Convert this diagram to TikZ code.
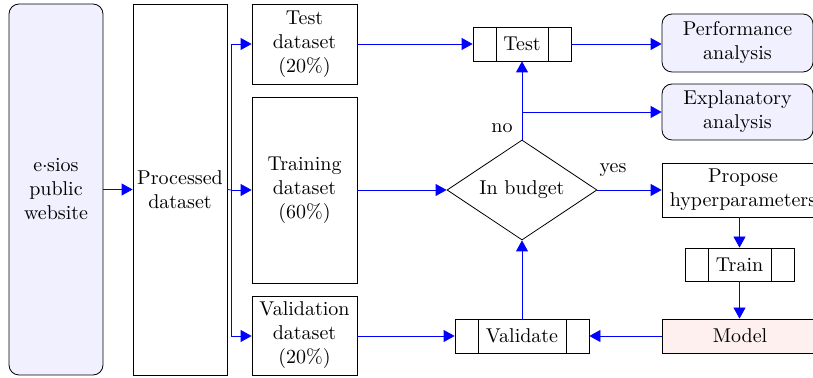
\documentclass[tikz,border=0pt]{standalone}
\usetikzlibrary{arrows.meta,shapes.geometric}
\begin{document}
\begin{tikzpicture}[x=0.5pt,y=-0.5pt,
  box/.style={draw, inner sep=0pt, align=center},
  rbox/.style={box, rounded corners=5pt, fill=blue!6},
  splitbox/.style={box, path picture={
    \draw ([xshift=11.5pt]path picture bounding box.north west) -- ([xshift=11.5pt]path picture bounding box.south west);
    \draw ([xshift=-11.5pt]path picture bounding box.north east) -- ([xshift=-11.5pt]path picture bounding box.south east);}},
  link/.style={draw=blue},
  arr/.style={link, -{Triangle[length=5.5pt,width=6pt]}},
  lbl/.style={inner sep=0pt}]
\useasboundingbox (0,0) rectangle (813,378);
\node[rbox, minimum width=47pt, minimum height=185.5pt] (src) at (56,189.5) {e\hbox to 2.4pt{\hss$\cdot$\hss}sios\\public\\website};
\node[box, minimum width=47pt, minimum height=185.5pt] (proc) at (180,189.5) {Processed\\dataset};
\node[box, minimum width=52.5pt, minimum height=40pt] (testd) at (304.5,44) {Test\\dataset\\(20\%)};
\node[box, minimum width=52.5pt, minimum height=93pt] (traind) at (304.5,190) {Training\\dataset\\(60\%)};
\node[box, minimum width=52.5pt, minimum height=39.5pt] (vald) at (304.5,335.5) {Validation\\dataset\\(20\%)};
\node[splitbox, minimum width=49pt, minimum height=17pt] (test) at (522,44) {Test};
\node[rbox, minimum width=75.5pt, minimum height=29pt] (perf) at (737.5,43) {Performance\\analysis};
\node[rbox, minimum width=75.5pt, minimum height=28pt] (expl) at (737.5,112) {Explanatory\\analysis};
\node[draw, diamond, inner sep=0pt, minimum width=75pt, minimum height=50pt, aspect=1.5] (budget) at (522,190) {In budget};
\node[box, minimum width=81pt, minimum height=27pt] (prop) at (743,190) {Propose\\hyperparameters};
\node[splitbox, minimum width=54.5pt, minimum height=16.5pt] (train) at (739.5,264.5) {Train};
\node[box, fill=red!6, minimum width=78pt, minimum height=17pt] (model) at (740,336) {Model};
\node[splitbox, minimum width=67pt, minimum height=17pt] (valid) at (522,336) {Validate};
\node[lbl] (no) at (502,128) {no};
\node[lbl] (yes) at (613,170) {yes};
\coordinate (br) at (231,190);
\coordinate (nj) at (522,112);
\draw[arr] (src.east) -- (proc.west);
\draw[link] (proc.east) -- (br);
\draw[arr] (br) -- (traind.west);
\draw[arr] (br) |- (testd.west);
\draw[arr] (br) |- (valid.west -| vald.west);
\draw[arr] (testd.east) -- (test.west);
\draw[arr] (test.east) -- (test.east -| perf.west);
\draw[arr] (traind.east) -- (budget.west);
\draw[arr] (budget.north) -- (test.south);
\draw[arr] (nj) -- (expl.west);
\draw[arr] (budget.east) -- (prop.west |- budget.east);
\draw[arr] (prop.south -| train.north) -- (train.north);
\draw[arr] (train.south) -- (model.north -| train.south);
\draw[arr] (model.west) -- (valid.east);
\draw[arr] (valid.west -| vald.east) -- (valid.west);
\draw[arr] (valid.north) -- (budget.south);
\end{tikzpicture}
\end{document}
